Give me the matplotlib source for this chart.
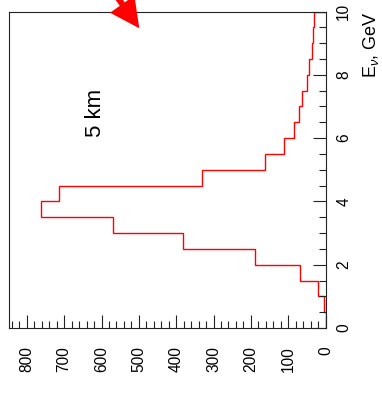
import matplotlib
matplotlib.use("Agg")
import matplotlib.pyplot as plt
import matplotlib.transforms as mtransforms
from matplotlib.patches import FancyArrow
import numpy as np

plt.rcParams["font.family"] = ["Liberation Sans", "DejaVu Sans"]
plt.rcParams["mathtext.fontset"] = "custom"
plt.rcParams["mathtext.rm"] = "Liberation Sans"
plt.rcParams["mathtext.it"] = "Liberation Sans:italic"

# Neutrino energy bins (GeV) and event counts per 0.5 GeV bin
energy_edges = np.arange(0.0, 10.01, 0.5)
events = [0, 5, 21, 67, 188, 383, 568, 762, 713, 331,
          162, 111, 85, 71, 62, 50, 45, 36, 33, 31]
count_ticks = [0, 100, 200, 300, 400, 500, 600, 700, 800]
energy_ticks = [0, 2, 4, 6, 8, 10]
distance_label = "5 km"

W, H = 382, 395
fig = plt.figure(figsize=(W / 100, H / 100), dpi=100)
ax = fig.add_axes([9.3 / W, 1 - 328 / H, 316.2 / W, 316.5 / H])

ax.stairs(events, energy_edges, orientation="horizontal",
          color="#ff0000", lw=1.0)

ax.set_xlim(847, 0)
ax.set_ylim(0, 10)

ax.set_xticks(count_ticks)
ax.set_xticks(np.arange(0, 847, 20), minor=True)
ax.set_yticks(energy_ticks)
ax.set_yticks(np.arange(0, 10.01, 0.5), minor=True)

ax.yaxis.tick_right()
ax.tick_params(axis="both", which="both", direction="in", width=0.8,
               color="#222222", labelsize=11.2)
ax.tick_params(axis="both", which="major", length=9.5)
ax.tick_params(axis="both", which="minor", length=4.8)
ax.tick_params(axis="x", which="both", top=False, pad=13.0)
ax.tick_params(axis="y", which="both", left=False, pad=7.8)

for lab in ax.get_xticklabels():
    lab.set_rotation(90)
    lab.set_va("top")
    lab.set_ha("center")
for lab in ax.get_yticklabels():
    lab.set_rotation(90)
    lab.set_va("center")
    lab.set_ha("left")

for sp in ax.spines.values():
    sp.set_linewidth(0.8)
    sp.set_color("#222222")

ax.text(1.144, 1.0, r"E$_{\nu}$, GeV", transform=ax.transAxes,
        rotation=90, ha="center", va="top", fontsize=13)
ax.text(0.2725, 0.681, distance_label, transform=ax.transAxes,
        rotation=90, ha="center", va="center", fontsize=16)

# Red pointer arrow entering from the top edge (pixel coordinates, y down)
px = mtransforms.Affine2D().scale(1 / W, -1 / H).translate(0, 1) + fig.transFigure
arrow = FancyArrow(99.1, -28.6, 40.2, 56.9, width=6, head_width=29.8,
                   head_length=29.6, length_includes_head=True,
                   color="#ff0000", lw=0, transform=px, clip_on=False)
fig.patches.append(arrow)

fig.savefig("out.png", dpi=100)
